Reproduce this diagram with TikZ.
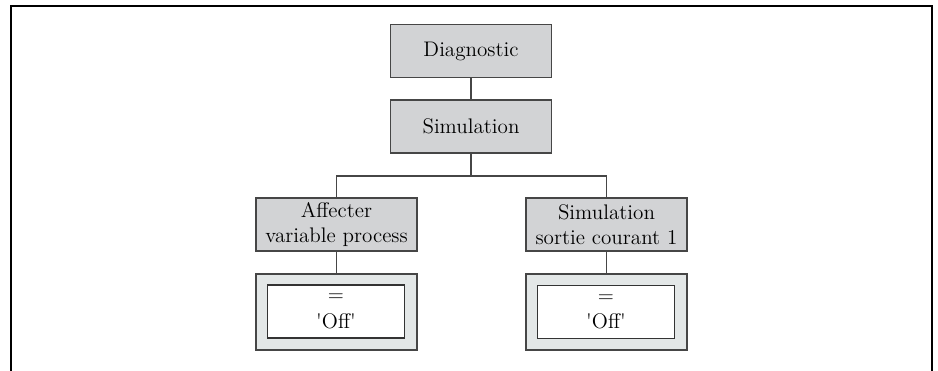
\documentclass[tikz,border=0pt]{standalone}
\usepackage{fontspec}
\definecolor{boxgray}{RGB}{210,211,213}
\definecolor{valgray}{RGB}{227,231,231}
\definecolor{linegray}{RGB}{70,70,70}
\tikzset{
  menubox/.style={draw=linegray, line width=0.6pt, fill=boxgray, align=center,
    minimum width=3.22cm, minimum height=1.06cm, inner sep=0pt,
    font=\fontsize{12}{14.5}\selectfont},
  valframe/.style={draw=linegray, line width=0.6pt, fill=valgray,
    minimum width=3.22cm, minimum height=1.52cm, inner sep=0pt},
  valbox/.style={draw=black!80, line width=0.6pt, fill=white, align=center,
    minimum width=2.74cm, minimum height=1.06cm, inner sep=0pt,
    font=\fontsize{12}{15}\selectfont},
  link/.style={draw=linegray, line width=0.6pt}
}
\begin{document}
\begin{tikzpicture}[x=0.02cm,y=-0.02cm]
    \useasboundingbox (0,0) rectangle (938,371);
    % Cadre
    \draw[line width=1.1pt] (11,371) -- (11,6) -- (932,6) -- (932,371);

    % Menus
    \node[menubox] (diag) at (471,51) {Diagnostic};
    \node[menubox] (sim) at (471,126.5) {Simulation};
    \node[menubox] (aff) at (336.5,224.5) {Affecter\\variable process};
    \node[menubox] (sortie) at (606.5,224.5) {Simulation\\sortie courant 1};

    % Valeurs
    \node[valframe] (affval) at (336.5,312) {};
    \node[valbox] (affin) at (336,311.5) {=\\\textquotesingle Off\textquotesingle};
    \node[valframe] (sortieval) at (606.5,312) {};
    \node[valbox] (sortiein) at (606,312) {=\\\textquotesingle Off\textquotesingle};

    % Liaisons
    \coordinate (fork) at (471,176);
    \draw[link] (diag) -- (sim);
    \draw[link] (sim) -- (fork);
    \draw[link] (aff.north) |- (fork) -| (sortie.north);
    \draw[link] (aff) -- (affval);
    \draw[link] (sortie) -- (sortieval);
\end{tikzpicture}
\end{document}
